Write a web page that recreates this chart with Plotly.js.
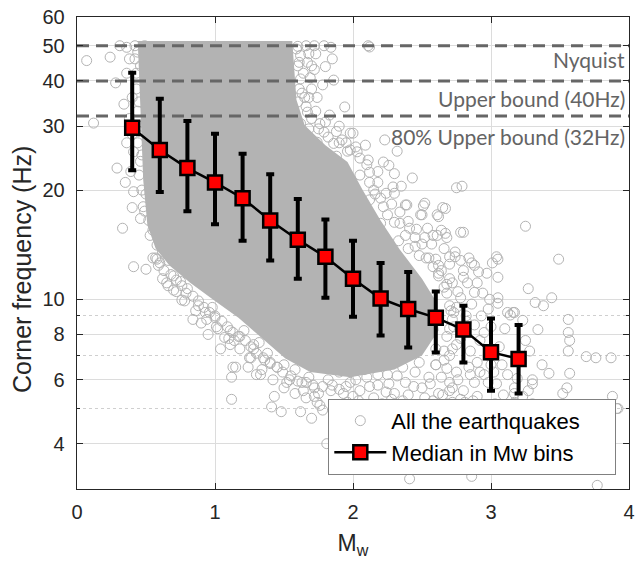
<!DOCTYPE html>
<html>
<head>
<meta charset="utf-8">
<script src="https://cdn.plot.ly/plotly-3.0.1.min.js"></script>
<style>html,body{margin:0;padding:0;background:#fff;}#chart{width:635px;height:567px;}</style>
</head>
<body>
<div id="chart"></div>
<script>
// ---- Median in Mw bins ----
const binMw = [0.4,0.6,0.8,1.0,1.2,1.4,1.6,1.8,2.0,2.2,2.4,2.6,2.8,3.0,3.2];
const binMedian = [29.7,25.8,23.0,21.0,19.0,16.5,14.6,13.1,11.4,10.05,9.4,8.9,8.25,7.15,6.85];
const binUpper = [42.1,35.7,31.0,28.6,25.2,22.1,18.9,16.6,14.5,12.6,11.9,10.5,9.6,8.85,8.5];
const binLower = [22.7,19.75,17.5,16.1,14.5,12.8,11.4,10.1,8.95,7.95,7.37,7.14,6.7,5.6,5.5];

// ---- Dense core of the earthquake cloud (outline of the solid grey region) ----
const coreMw = [0.44,1.56,1.59,1.65,1.80,1.96,2.07,2.20,2.34,2.50,2.60,2.62,2.50,2.30,1.98,1.69,1.51,1.34,1.17,0.99,0.82,0.67,0.57,0.51,0.48,0.46,0.44];
const coreFc = [51.5,51.5,35.5,30.2,26.6,23.9,20,16.5,13.7,11.4,9.9,8.2,7.0,6.4,6.1,6.3,6.87,7.8,8.9,9.95,11.1,12.4,13.8,16.0,21.3,33.3,51.5];

// ---- Individual earthquakes outside the dense core ----
const eqMw = [
0.07,0.24,0.38,0.36,0.28,0.36,0.34,0.12,0.29,0.35,0.41,0.33,0.40,0.46,0.58,0.36,0.42,0.49,0.44,0.46,0.43,0.45,0.47,0.44,0.47,0.45,0.50,0.48,0.52,0.55,0.57,0.62,0.66,0.52,0.31,0.40,0.38,0.41,0.39,
0.41,0.50,0.59,0.65,0.72,0.76,0.80,0.84,0.90,0.95,1.04,1.12,1.12,1.15,1.24,1.33,1.43,1.41,1.48,1.62,1.70,1.81,1.76,1.54,1.64,1.45,1.36,1.25,1.14,1.07,1.01,1.11,1.21,1.28,1.93,1.13,1.30,1.52,1.63,1.71,1.11,1.28,1.40,0.66,0.70,0.75,0.88,0.93,0.98,1.00,1.18,1.32,1.38,1.50,1.58,1.68,1.75,1.85,
1.78,1.87,1.96,2.12,2.21,2.33,2.47,2.57,2.68,2.83,3.03,3.17,3.91,2.41,2.86,3.77,
1.90,1.98,2.05,2.10,2.18,2.25,2.30,2.38,2.45,2.50,2.55,2.62,2.70,2.75,2.80,2.88,2.95,2.00,2.15,2.28,2.40,2.52,2.65,2.78,1.82,1.93,2.08,2.22,2.36,2.48,2.60,2.72,2.90,2.42,2.08,1.72,2.20,2.60,
2.72,2.81,2.87,3.04,3.09,3.17,3.19,2.70,2.75,2.68,2.78,2.72,2.82,2.85,2.92,2.95,2.90,2.98,3.06,3.08,2.88,2.83,2.78,2.80,2.86,2.74,2.94,2.98,2.99,3.05,3.14,3.16,3.25,3.23,3.04,3.01,2.91,2.70,2.66,2.62,2.58,2.70,2.75,2.88,2.93,3.00,2.66,2.60,3.02,3.12,3.10,2.85,
3.49,3.27,3.32,3.44,3.38,3.56,3.56,3.57,3.56,3.69,3.76,3.87,3.57,3.55,3.52,3.88,3.92,3.34,3.28,3.37,3.42,3.30,3.23,3.30,3.16,3.25,3.05,3.05,3.05,2.97,2.88,3.12,3.17,3.27,3.30,3.17,
2.12,2.09,2.23,2.32,2.22,2.26,2.30,2.43,2.29,2.30,2.12,2.75,2.79,2.39,2.51,2.67,2.61,2.49,2.54,2.68,2.78,2.58,2.41,2.45,2.34,2.25,2.12,2.00,2.80,2.78,2.72,2.70,2.67,2.74,2.65,2.52,2.38,2.50,2.62,2.64,2.61,2.55,2.62,2.48,2.50,2.40,2.20,2.15,2.05,2.10,2.18,2.35,2.20,2.33,
1.59,1.67,1.80,1.86,1.69,1.94,1.74,1.83,1.67,1.86,1.79,1.74,1.62,1.60,1.64,1.61,1.65,1.60,1.70,1.72,1.62,1.68,1.76,1.90,1.98,1.73,1.66,1.72,1.79,1.84,2.11,1.85,1.78,1.92,1.96,1.88,2.02,
0.55,0.60,0.63,0.68,0.72,0.76,0.79,0.84,0.88,0.92,0.96,1.00,1.05,1.09,1.13,1.17,1.22,1.26,1.30,1.35,1.40,1.45,1.49,1.55,1.60,1.66,1.72,1.78,1.84,1.90,0.58,
0.62,0.70,0.78,0.86,0.94,1.02,1.10,1.18,1.26,1.34,1.42,1.50,1.58,1.66,1.74,
1.95,2.02,2.12,2.18,2.26,2.32,2.44,2.56,2.64,2.68,2.76,2.84,2.92,2.04,2.24,2.36,2.58,2.70,2.98,3.00,2.10,2.50,2.30,
2.70,2.73,2.76,2.68,2.64,2.60,2.72,2.78,2.82,2.86,2.80,2.90,2.84,2.70,2.66,2.57,2.52,2.46,2.40,2.34,2.28,2.24,2.18,2.12,2.05,1.98,1.90,1.82,1.75,1.70,1.66,1.63,1.62,1.61,1.60,
1.68,1.70,1.68,1.73,1.80,1.88,1.95,2.03,2.11,2.16,2.22,2.30,2.38,2.45,2.53,2.62,2.68,2.71,2.73,2.66,2.60,
0.42,0.43,0.44,0.45,0.46,0.47,0.49,0.53,0.41,0.40
];
const eqFc = [
45.5,46.5,46,49.5,39.5,42,34.5,30.6,23,21,19.8,15.7,17.9,16.7,14.1,27,50,50,48,44,38,35,30,27,25,22,19.5,18,16.5,15.5,13,13.5,12.8,48.5,50,36,31.5,25.5,22.5,
12.3,12.1,12.4,11.1,10.5,9.95,10.7,8.8,8.6,8.0,7.3,6.1,5.3,6.5,6.5,6.2,5.4,5.05,4.9,4.9,4.7,4.0,5.1,6.0,5.6,6.5,6.8,6.9,7.7,7.85,8.4,8.2,8.2,7.5,5.5,6.5,6.2,5.9,5.9,5.8,7.5,7.3,6.65,10.9,11.6,11.2,9.6,9.2,9.5,8.9,7.9,7.6,7.1,6.6,6.4,6.1,5.5,5.8,
4.95,5.05,5.2,5.1,5.15,5.05,5.1,5.0,5.15,5.1,5.15,5.2,5.0,3.2,3.25,3.07,
6.3,5.9,5.6,6.1,5.8,6.2,5.5,5.9,6.3,5.7,6.1,5.5,5.9,6.3,5.6,5.9,6.2,5.4,5.35,5.3,5.45,5.35,5.45,5.3,6.0,6.5,6.4,6.6,6.5,6.7,6.6,5.2,5.4,5.0,5.0,5.4,4.95,4.95,
5.7,5.2,5.25,5.85,5.45,5.7,6.05,7.0,7.5,7.9,8.3,8.8,9.0,7.2,7.7,8.1,6.7,7.0,7.4,6.6,10.45,11.1,10.1,12.0,12.6,13.1,10.4,9.4,10.0,9.75,9.05,9.2,7.7,8.75,13.1,12.6,11.9,9.6,10.8,11.6,12.3,11.4,9.5,8.5,9.0,8.4,6.8,7.3,6.3,6.2,8.3,6.2,
12.9,10.7,9.8,10.1,9.6,8.8,8.1,7.7,7.2,6.95,6.9,6.9,6.25,5.7,5.5,5.4,5.0,8.25,7.2,6.6,6.25,5.85,5.4,5.15,5.15,15.9,12.9,11.5,10.1,11.8,12.4,9.2,9.2,5.6,6.0,5.5,
49.6,26.6,27.5,25.6,23.9,23.4,22.2,21.6,20.4,19.6,21,20.3,20.5,18.2,18.1,17.8,17.1,17.1,15.7,14.8,15.3,15.0,15.7,14.8,16.2,17.1,18.8,28.7,15.3,12.8,11.1,13.1,15.2,13.5,17.9,18.4,18.2,17.1,16.9,15.5,15.0,13.0,12.4,13.2,14.2,13.8,19.0,20.0,22.0,23.5,22.5,20.5,16.2,14.5,
49,45,43.8,40.2,40.8,33.9,36,32.2,32.8,26.9,28.9,27.1,47,44,42,38,36,35,38,43,30.5,29.5,30.5,30,28.7,47.5,50,50,50,49.5,50,46,39,27.5,25.6,24.8,26.3,
13.0,12.6,12.0,11.7,11.3,10.9,10.4,10.2,9.9,9.5,9.2,9.0,8.7,8.4,8.1,7.9,7.7,7.4,7.1,6.9,6.7,6.5,6.3,6.15,5.95,5.9,5.7,5.75,5.6,5.65,12.9,
11.4,10.6,9.9,9.3,8.8,8.3,7.8,7.3,6.9,6.4,6.0,5.7,5.5,5.35,5.2,
5.75,6.0,5.75,6.2,5.85,6.15,5.75,5.85,6.1,6.45,6.0,6.5,6.3,5.25,5.55,5.25,5.25,5.6,5.9,6.6,4.85,4.9,4.85,
8.3,9.2,10.5,11.0,12.0,12.9,7.3,7.8,8.7,9.7,11.5,11.1,13.0,12.5,13.8,14.2,14.8,15.6,16.4,17.4,18.3,19.6,21.0,22.4,24.5,25.8,27.0,28.0,29.5,31.5,34.0,37.0,40.5,45,49.8,
47.5,44,36,33,30.8,29,27,25.5,24.2,19.5,18,16.3,15,14,13,11.8,10.4,9.3,8.4,7.2,6.6,
46,42,33,29,24,20,17.5,15,30,28.5
];

// ---- Reference frequency levels ----
const refLevels = [50, 40, 32];
const refLabels = ['Nyquist', 'Upper bound (40Hz)', '80% Upper bound (32Hz)'];
const xSpan = [0, 4];

// ---- Axis ticks ----
const yTicks = [4,6,8,10,20,30,40,50,60];
const yMinorTicks = [3,5,7,9];
const xTicks = [0,1,2,3,4];

const grey = '#b3b3b3';
const pad = '\u00a0\u00a0\u00a0\u00a0\u00a0';
const traces = [];
traces.push({x: coreMw, y: coreFc, mode: 'lines', fill: 'toself', fillcolor: grey,
  line: {width: 0, color: grey}, hoverinfo: 'skip', showlegend: false});
traces.push({x: eqMw, y: eqFc, mode: 'markers', name: 'All the earthquakes' + pad,
  marker: {symbol: 'circle-open', size: 10, color: grey, line: {width: 1, color: grey}}});
refLevels.forEach(function(v){
  traces.push({x: xSpan, y: [v, v], mode: 'lines', showlegend: false, hoverinfo: 'skip',
    line: {color: '#666666', width: 3, dash: '12px,7px'}});
});
traces.push({x: binMw, y: binMedian, mode: 'lines+markers', name: 'Median in Mw bins',
  line: {color: '#000', width: 2.5},
  marker: {symbol: 'square', size: 14, color: '#ff0000', line: {color: '#000', width: 2.5}},
  error_y: {type: 'data', symmetric: false,
    array: binUpper.map(function(u,i){return u - binMedian[i];}),
    arrayminus: binLower.map(function(l,i){return binMedian[i] - l;}),
    color: '#000', thickness: 4, width: 4}});

const annY = [0.911, 0.828, 0.746];
const annotations = refLabels.map(function(t,i){
  return {text: t, xref: 'paper', yref: 'paper', x: 0.996, y: annY[i], xanchor: 'right', yanchor: 'middle',
    showarrow: false, font: {family: 'Lato', size: 21, color: '#646464'}};
});
annotations.push({text: 'Corner frequency (Hz)', xref: 'paper', yref: 'paper', x: -0.0996, y: 0.464,
  xanchor: 'center', yanchor: 'middle', textangle: -90, showarrow: false,
  font: {family: 'Liberation Sans, Arial, sans-serif', size: 25, color: '#262626'}});

const tickFont = {family: 'Liberation Sans, Arial, sans-serif', size: 20, color: '#262626'};
const layout = {
  width: 635, height: 567,
  margin: {l: 77, r: 6, t: 17, b: 78},
  paper_bgcolor: '#fff', plot_bgcolor: '#fff',
  font: {family: 'Liberation Sans, Arial, sans-serif', color: '#262626'},
  xaxis: {range: [0, 4], tickvals: xTicks, ticktext: xTicks.map(String), ticks: 'inside', ticklen: 6,
    tickcolor: '#262626', showline: true, linecolor: '#262626', linewidth: 1.3, mirror: 'ticks',
    showgrid: true, gridcolor: '#dcdcdc', zeroline: false, tickfont: tickFont, ticklabelstandoff: 5,
    title: {text: 'M<sub>w</sub>', font: {size: 23, color: '#262626'}, standoff: 12}},
  yaxis: {type: 'log', range: [Math.log10(3), Math.log10(60)], tickvals: yTicks, ticktext: yTicks.map(String),
    ticks: 'inside', ticklen: 6, tickcolor: '#262626', showline: true, linecolor: '#262626', linewidth: 1.3,
    mirror: 'ticks', showgrid: true, gridcolor: '#dcdcdc', zeroline: false, tickfont: tickFont, ticklabelstandoff: 7,
    minor: {tickvals: yMinorTicks, ticks: 'inside', ticklen: 3, tickcolor: '#262626', showgrid: true,
      griddash: 'dot', gridcolor: '#cfcfcf', gridwidth: 1}},
  legend: {x: 0.977, y: 0.03, xanchor: 'right', yanchor: 'bottom', bgcolor: '#fff', bordercolor: '#808080',
    borderwidth: 1, font: {family: 'Liberation Sans, Arial, sans-serif', size: 22, color: '#000'}, itemwidth: 52},
  annotations: annotations,
  showlegend: true
};
Plotly.newPlot('chart', traces, layout, {displayModeBar: false, staticPlot: true});
</script>
</body>
</html>
